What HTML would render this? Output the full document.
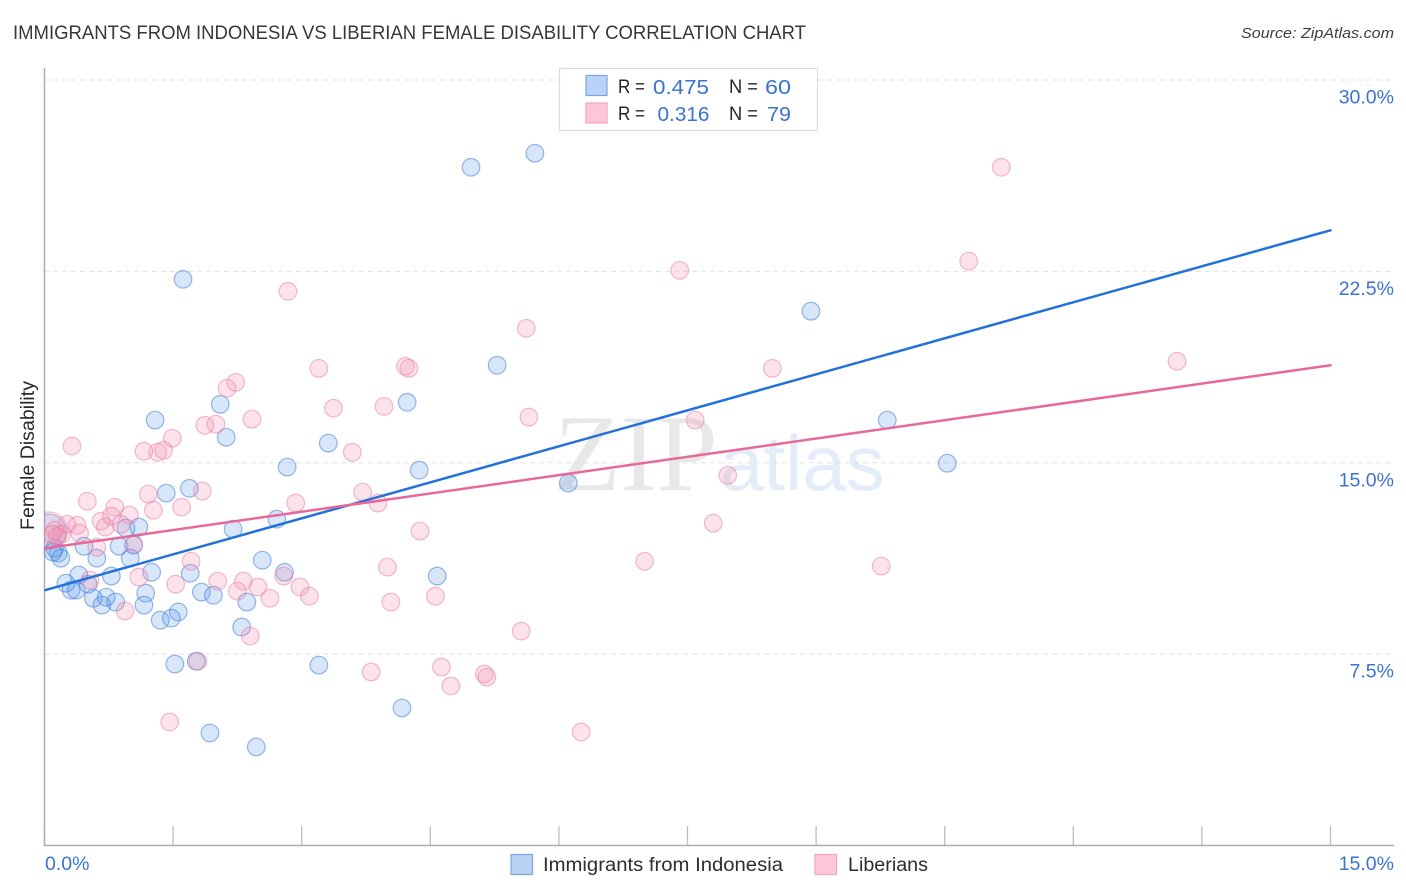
<!DOCTYPE html>
<html lang="en">
<head>
<meta charset="utf-8">
<title>Immigrants from Indonesia vs Liberian Female Disability Correlation Chart</title>
<style>
html,body{margin:0;padding:0;background:#fff;}
svg{display:block;font-family:"Liberation Sans",sans-serif;}
</style>
</head>
<body>
<svg id="chart" xmlns="http://www.w3.org/2000/svg" width="1406" height="892" viewBox="0 0 1406 892">
  <defs>
    <clipPath id="plot-clip"><rect x="44" y="60" width="1350" height="786"/></clipPath>
  </defs>
  <rect x="0" y="0" width="1406" height="892" fill="#ffffff"/>
  <text x="13" y="39" font-size="19" fill="#33373e" textLength="793" lengthAdjust="spacingAndGlyphs">IMMIGRANTS FROM INDONESIA VS LIBERIAN FEMALE DISABILITY CORRELATION CHART</text>
  <text x="1394" y="38" font-size="15" font-style="italic" fill="#3a3f47" text-anchor="end" textLength="153" lengthAdjust="spacingAndGlyphs">Source: ZipAtlas.com</text>
  <text x="554" y="490" font-size="109" font-family="'Liberation Serif',serif" fill="#e8e8e8">ZIP</text>
  <text x="720" y="490" font-size="78" fill="#e3edf9">atlas</text>
  <g id="grid"></g>
  <g id="x-ticks"></g>
  <line x1="44.5" y1="68" x2="44.5" y2="846" stroke="#aeaeae" stroke-width="1.5"/>
  <line x1="44" y1="845.5" x2="1394" y2="845.5" stroke="#aeaeae" stroke-width="1.5"/>
  <g id="points" clip-path="url(#plot-clip)"></g>
  <g id="trends"></g>
  <g id="y-labels"></g>
  <g id="x-labels"></g>
  <text transform="translate(34,530) rotate(-90)" font-size="19" fill="#26292e" textLength="149" lengthAdjust="spacingAndGlyphs">Female Disability</text>

  <g>
    <rect x="559.5" y="68.5" width="258" height="62" fill="#ffffff" stroke="#dcdcdc" stroke-width="1.2"/>
    <rect x="586" y="75.5" width="21" height="20" fill="#b9d3f6" stroke="#7ba6e2" stroke-width="1.2"/>
    <rect x="586" y="103" width="21" height="20" fill="#fdc7d9" stroke="#f3a6c0" stroke-width="1.2"/>
    <text x="618" y="93" font-size="19" fill="#23262b" textLength="27" lengthAdjust="spacingAndGlyphs">R =</text>
    <text x="653" y="94" font-size="20" fill="#3b73d1" textLength="56" lengthAdjust="spacingAndGlyphs">0.475</text>
    <text x="729" y="93" font-size="19" fill="#23262b" textLength="29" lengthAdjust="spacingAndGlyphs">N =</text>
    <text x="765" y="94" font-size="20" fill="#3b73d1" textLength="26" lengthAdjust="spacingAndGlyphs">60</text>
    <text x="618" y="120" font-size="19" fill="#23262b" textLength="27" lengthAdjust="spacingAndGlyphs">R =</text>
    <text x="657.5" y="121" font-size="20" fill="#3b73d1" textLength="52" lengthAdjust="spacingAndGlyphs">0.316</text>
    <text x="729" y="120" font-size="19" fill="#23262b" textLength="29" lengthAdjust="spacingAndGlyphs">N =</text>
    <text x="767" y="121" font-size="20" fill="#3b73d1" textLength="24" lengthAdjust="spacingAndGlyphs">79</text>
  </g>

  <g>
    <rect x="511" y="854.5" width="21.5" height="20" fill="#b9d3f6" stroke="#7ba6e2" stroke-width="1.2"/>
    <text x="543" y="871" font-size="19" fill="#2a2d33" textLength="240" lengthAdjust="spacingAndGlyphs">Immigrants from Indonesia</text>
    <rect x="815" y="854.5" width="21.5" height="20" fill="#fdc7d9" stroke="#f3a6c0" stroke-width="1.2"/>
    <text x="848" y="871" font-size="19" fill="#2a2d33" textLength="80" lengthAdjust="spacingAndGlyphs">Liberians</text>
  </g>
</svg>
<script>
var indonesiaX = [4.975,5.72,1.616,8.94,5.28,4.23,2.05,1.29,2.12,3.31,9.83,10.53,2.83,4.37,6.11,1.69,1.42,2.71,1.10,2.2,0.95,0.87,1.04,0.46,0.61,1.0,2.54,1.25,0.78,0.40,1.70,2.8,4.58,0.25,0.31,0.37,0.51,0.57,0.72,0.67,0.83,1.18,1.16,1.83,1.97,2.36,1.56,1.35,1.48,2.30,1.77,1.52,3.2,4.17,1.93,2.47,0.12,0.16,0.19,0.10];
var indonesiaY = [26.58,27.13,22.19,20.94,18.82,17.37,17.29,16.67,16.0,15.77,16.67,14.98,14.83,14.71,14.2,14.0,13.81,12.79,12.48,12.4,12.44,11.73,11.77,11.73,11.26,11.26,11.18,10.71,10.56,10.6,10.67,10.71,10.56,10.28,10.01,10.01,10.24,9.69,9.73,9.42,9.54,9.89,9.42,9.93,9.81,9.54,9.15,8.83,8.91,8.56,7.22,7.11,7.07,5.39,4.41,3.86,11.65,11.46,11.26,11.5];
var liberiansX = [11.16,10.78,7.41,2.84,5.62,13.21,4.21,4.25,3.2,8.49,2.23,2.13,3.96,3.37,2.42,5.65,7.59,1.87,2.0,1.49,0.32,1.16,1.32,1.39,3.59,7.97,1.21,1.84,3.71,0.50,2.93,3.89,1.60,0.82,1.27,0.78,0.99,0.66,0.89,0.71,7.8,4.38,0.38,0.26,0.41,0.2,0.12,0.15,0.09,0.61,1.04,7.0,1.71,4.0,9.76,0.53,1.1,1.53,2.02,2.32,2.79,2.49,2.98,2.25,2.63,3.09,4.04,4.56,0.94,5.56,2.4,1.79,4.63,3.81,5.13,5.16,4.74,1.46,6.26];
var liberiansY = [26.58,22.9,22.54,21.72,20.27,18.98,18.78,18.7,18.7,18.7,18.15,17.92,17.21,17.14,16.71,16.79,16.67,16.47,16.51,15.96,15.65,15.45,15.41,15.49,15.41,14.51,13.77,13.89,13.85,13.49,13.42,13.42,13.26,13.26,13.14,12.91,12.95,12.71,12.59,12.48,12.63,12.32,12.55,12.59,12.24,12.2,12.36,12.12,12.2,11.69,11.81,11.14,11.14,10.91,10.95,10.4,10.52,10.24,10.36,10.36,10.56,10.13,10.13,9.97,9.69,9.77,9.54,9.77,9.19,8.4,8.21,7.22,6.99,6.8,6.72,6.6,6.25,4.84,4.45];
var clusterX = [0.05];
var indonesiaClusterY = [12.3];
var liberiansClusterY = [12.35];
var trendX = [0,15];
var indonesiaTrendY = [10.01,24.11];
var liberiansTrendY = [11.65,18.82];
var yTicks = [30,22.5,15,7.5];
var yTickLabels = ["30.0%","22.5%","15.0%","7.5%"];
var xTicks = [0,1.5,3,4.5,6,7.5,9,10.5,12,13.5,15];
var xEdgeTicks = [0,15];
var xEdgeLabels = ["0.0%","15.0%"];

var NS = 'http://www.w3.org/2000/svg';
function sx(v){ return 44.5 + v * (1330.5 - 44.5) / 15; }
function sy(v){ return 845.5 - v * (845.5 - 80) / 30; }
function make(tag, parentId, attrs){
  var el = document.createElementNS(NS, tag);
  for (var k in attrs) el.setAttribute(k, attrs[k]);
  document.getElementById(parentId).appendChild(el);
  return el;
}
yTicks.forEach(function(t, i){
  var g = make('line', 'grid', {x1:44, x2:1394, y1:sy(t), y2:sy(t), stroke:'#e2e2e2', 'stroke-width':1, 'stroke-dasharray':'5 4'});
  
  
  var l = make('text', 'y-labels', {x:1394, y:sy(t) + 23.5, 'text-anchor':'end', 'font-size':19.5, fill:'#3b73d1'});
  
  
  l.textContent = yTickLabels[i];
});
xTicks.forEach(function(t){
  var k = make('line', 'x-ticks', {x1:sx(t), x2:sx(t), y1:826, y2:846, stroke:'#bdbdbd', 'stroke-width':1.3});
  
  
});
xEdgeTicks.forEach(function(t, i){
  var first = i === 0;
  var l = make('text', 'x-labels', {x:first ? sx(t) + 0.5 : 1394, y:870, 'text-anchor':first ? 'start' : 'end', 'font-size':19.5, fill:'#3b73d1'});
  
  
  l.textContent = xEdgeLabels[i];
});
function drawSeries(xs, ys, radius, fill, stroke, name, fo, so){
  xs.forEach(function(x, i){
    var c = make('circle', 'points', {cx:sx(x), cy:sy(ys[i]), r:radius, fill:fill, 'fill-opacity':fo, stroke:stroke, 'stroke-opacity':so, 'stroke-width':1.2});
    
    
  });
}
drawSeries(clusterX, indonesiaClusterY, 17.5, '#4d8fe6', '#4a86d8', 'indonesia-cluster-point', 0.18, 0.4);
drawSeries(indonesiaX, indonesiaY, 8.8, '#5a98ea', '#3f7fd6', 'indonesia-point', 0.24, 0.55);
drawSeries(clusterX, liberiansClusterY, 18.5, '#f0779f', '#ea82a6', 'liberians-cluster-point', 0.18, 0.45);
drawSeries(liberiansX, liberiansY, 8.8, '#f28bad', '#ea82a6', 'liberians-point', 0.24, 0.55);
function drawTrend(ys, color, name){
  var t = make('line', 'trends', {x1:sx(trendX[0]) + 1, y1:sy(ys[0]), x2:sx(trendX[1]), y2:sy(ys[1]), stroke:color, 'stroke-width':2.5, 'stroke-linecap':'round'});
  
  
}
drawTrend(indonesiaTrendY, '#2272d8', 'indonesia-trend-line');
drawTrend(liberiansTrendY, '#e8689a', 'liberians-trend-line');
</script>
</body>
</html>
